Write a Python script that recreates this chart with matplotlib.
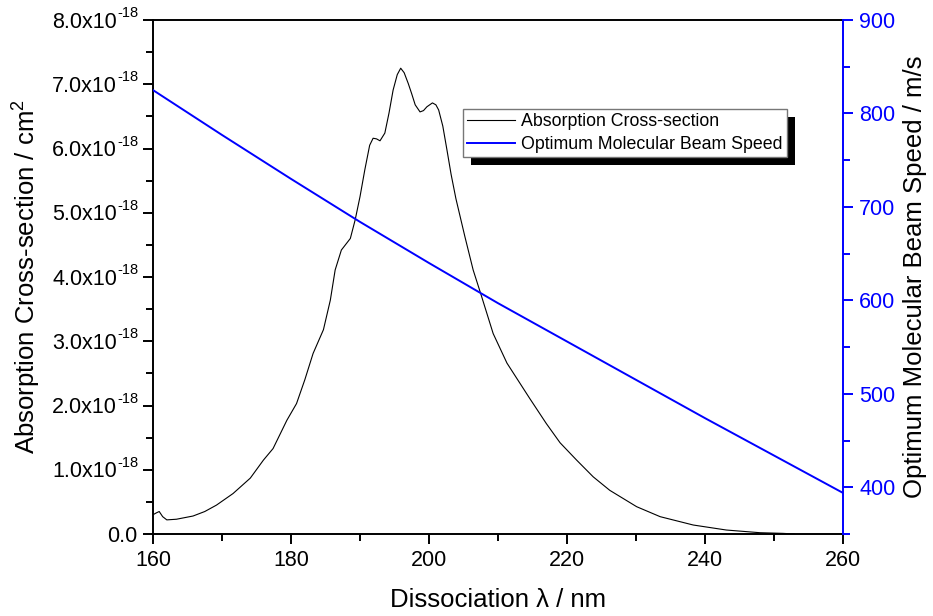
import matplotlib as mpl
import matplotlib.pyplot as plt
from matplotlib.patches import Rectangle
from matplotlib.transforms import IdentityTransform
from matplotlib.ticker import MultipleLocator, NullFormatter

mpl.rcParams['font.family'] = ['Liberation Sans', 'DejaVu Sans']
mpl.rcParams['mathtext.fontset'] = 'custom'
mpl.rcParams['mathtext.rm'] = 'Liberation Sans'
mpl.rcParams['mathtext.it'] = 'Liberation Sans:italic'
mpl.rcParams['mathtext.bf'] = 'Liberation Sans:bold'

# absorption spectrum, cross-section in units of 1e-18 cm^2
wl = [160.0, 160.5, 160.9, 161.4, 162.0, 163.4, 165.8, 167.5, 169.2, 171.6,
      174.1, 176.0, 177.4, 179.4, 180.8, 182.0, 183.2, 184.7, 185.7, 186.4,
      187.3, 188.6, 189.3, 190.0, 190.7, 191.4, 191.9, 192.4, 192.9, 193.6,
      194.2, 194.8, 195.4, 195.9, 196.4, 197.0, 197.5, 198.0, 198.7, 199.2,
      199.7, 200.5, 201.0, 201.4, 202.0, 202.6, 203.2, 203.9, 205.2, 206.4,
      207.5, 209.3, 211.3, 214.6, 217.0, 219.0, 221.4, 223.8, 226.2, 230.1,
      233.5, 238.3, 243.1, 248.0, 251.3, 253.0]
xsec = [0.30, 0.33, 0.35, 0.27, 0.22, 0.23, 0.28, 0.35, 0.45, 0.63,
        0.87, 1.15, 1.33, 1.77, 2.03, 2.40, 2.81, 3.18, 3.64, 4.11,
        4.42, 4.60, 4.89, 5.25, 5.67, 6.05, 6.16, 6.15, 6.12, 6.24,
        6.55, 6.91, 7.15, 7.25, 7.18, 7.01, 6.85, 6.68, 6.57, 6.59,
        6.65, 6.71, 6.68, 6.60, 6.35, 5.98, 5.60, 5.22, 4.63, 4.11,
        3.74, 3.12, 2.66, 2.11, 1.72, 1.42, 1.15, 0.89, 0.68, 0.425,
        0.27, 0.14, 0.062, 0.02, 0.01, 0.0]

# optimum beam speed (m/s)
wl_speed = [160, 170, 180, 190, 200, 210, 220, 230, 240, 250, 260]
speed = [825, 777, 730, 684, 640, 597, 556, 515, 474, 434, 394]

# left axis tick values, in units of 1e-18
ytick_vals = [0, 1, 2, 3, 4, 5, 6, 7, 8]

BLUE = '#0000ff'
TICK_FS = 15.5
SUP_FS = 10.5
LABEL_FS = 18.5

fig = plt.figure(figsize=(9.33, 6.16), dpi=100)
ax = fig.add_axes([0.164, 0.1331, 0.7395, 0.8344])
ax2 = ax.twinx()

l1, = ax.plot(wl, [v * 1e-18 for v in xsec], color='black', lw=0.8,
              label='Absorption Cross-section')
l2, = ax2.plot(wl_speed, speed, color=BLUE, lw=1.4,
               label='Optimum Molecular Beam Speed')

ax.set_xlim(160, 260)
ax.set_ylim(0, 8e-18)
ax2.set_ylim(350, 900)

ax.xaxis.set_major_locator(MultipleLocator(20))
ax.xaxis.set_minor_locator(MultipleLocator(10))
ax.set_yticks([v * 1e-18 for v in ytick_vals])
ax.yaxis.set_minor_locator(MultipleLocator(0.5e-18))
ax.yaxis.set_major_formatter(NullFormatter())
ax2.yaxis.set_major_locator(MultipleLocator(100))
ax2.yaxis.set_minor_locator(MultipleLocator(50))

# y tick labels written as mantissa x10 with a small raised exponent
for v in ytick_vals:
    if v == 0:
        ax.annotate('0.0', xy=(0, 0), xycoords=('axes fraction', 'data'),
                    xytext=(-16, -7.5), textcoords='offset pixels',
                    ha='right', va='baseline', fontsize=TICK_FS)
        continue
    ax.annotate('%.1fx10' % v, xy=(0, v * 1e-18),
                xycoords=('axes fraction', 'data'),
                xytext=(-36, -7.5), textcoords='offset pixels',
                ha='right', va='baseline', fontsize=TICK_FS)
    ax.annotate('-18', xy=(0, v * 1e-18),
                xycoords=('axes fraction', 'data'),
                xytext=(-36, 3), textcoords='offset pixels',
                ha='left', va='baseline', fontsize=SUP_FS)

for a in (ax, ax2):
    for s in a.spines.values():
        s.set_linewidth(1.4)
ax.spines['right'].set_visible(False)
for side in ('left', 'top', 'bottom'):
    ax2.spines[side].set_visible(False)
ax2.spines['right'].set_color(BLUE)

ax.tick_params(which='major', direction='out', length=7.2, width=1.4,
               labelsize=TICK_FS, pad=4.5)
ax.tick_params(which='minor', direction='out', length=5, width=1.4)
ax.tick_params(axis='x', which='both', top=False)
ax2.tick_params(which='major', direction='out', length=7.2, width=1.4,
                colors=BLUE, labelsize=TICK_FS, pad=4.5)
ax2.tick_params(which='minor', direction='out', length=5, width=1.4,
                colors=BLUE)

ax.set_xlabel('Dissociation λ / nm', fontsize=LABEL_FS)
ax.set_ylabel('Absorption Cross-section / cm$^2$', fontsize=LABEL_FS)
ax2.set_ylabel('Optimum Molecular Beam Speed / m/s', fontsize=LABEL_FS)
ax.xaxis.set_label_coords(0.5, -0.105)
ax.yaxis.set_label_coords(-0.16, 0.5)
ax2.yaxis.set_label_coords(1.087, 0.5)

leg = ax2.legend(handles=[l1, l2], loc='upper left',
                 bbox_to_anchor=(463 / 933, 1 - 109 / 616),
                 bbox_transform=fig.transFigure, fontsize=12.8,
                 frameon=True, fancybox=False, framealpha=1,
                 borderaxespad=0, handlelength=2.7, handletextpad=0.3,
                 labelspacing=0.3, borderpad=0.25)
leg.get_frame().set_edgecolor('#777777')
leg.get_frame().set_linewidth(1.0)

# drop shadow behind the legend box
fig.canvas.draw()
bb = leg.get_frame().get_window_extent(fig.canvas.get_renderer())
shadow = Rectangle((bb.x0 + 8, bb.y0 - 8), bb.width, bb.height,
                   transform=IdentityTransform(), facecolor='black',
                   edgecolor='none', zorder=4, clip_on=False)
ax2.add_patch(shadow)

fig.savefig('out.png', dpi=100)
